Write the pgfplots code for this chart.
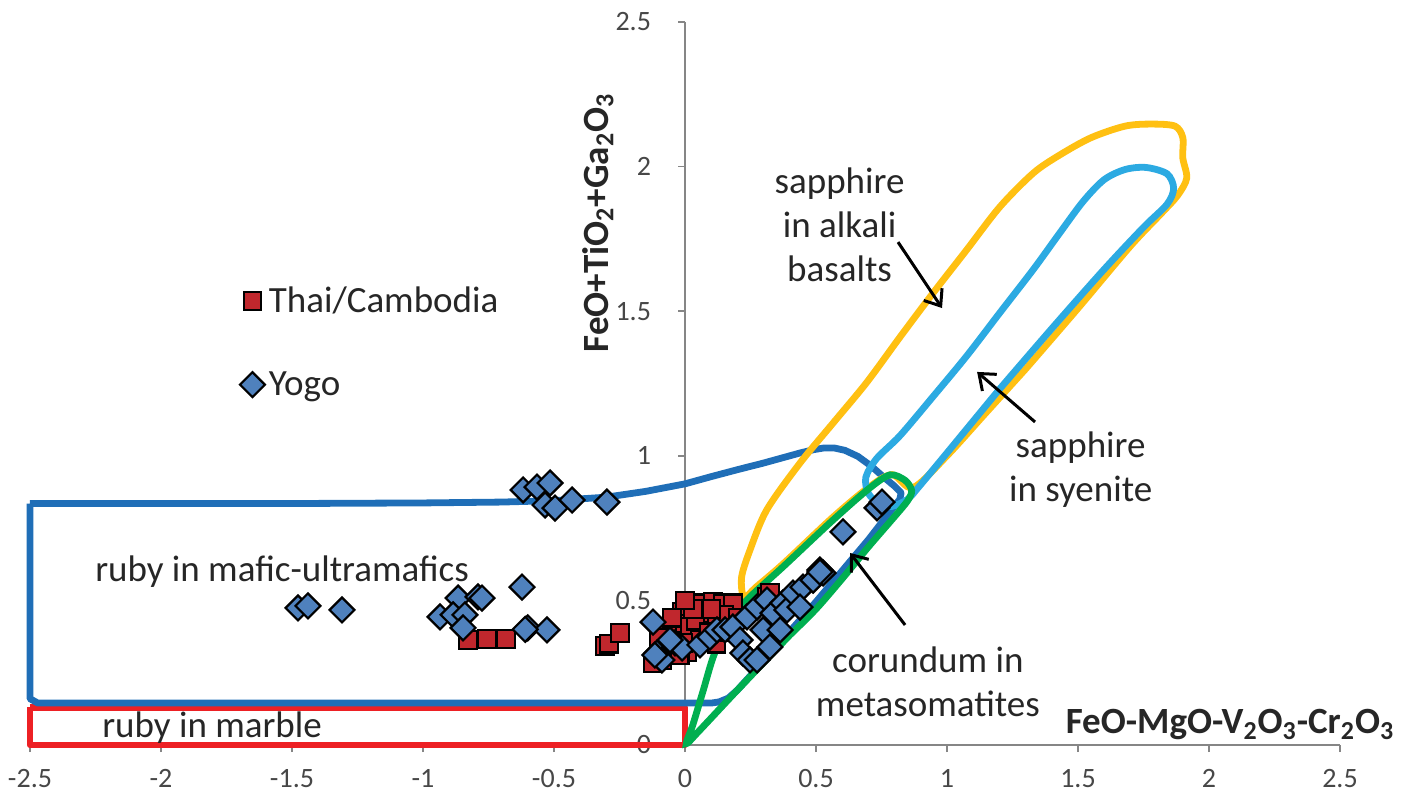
\documentclass[border=0pt]{standalone}
\usepackage{pgfplots}
\pgfplotsset{compat=1.18}
\usepackage{fontspec}
\setmainfont{Carlito}
\usetikzlibrary{arrows.meta}
\definecolor{txt}{HTML}{262626}
\definecolor{axgray}{HTML}{868686}
\definecolor{dblue}{HTML}{1F6EB7}
\definecolor{lblue}{HTML}{2CAAE2}
\definecolor{orng}{HTML}{FFC012}
\definecolor{grn}{HTML}{00AF50}
\definecolor{rred}{HTML}{ED2024}
\definecolor{sqred}{HTML}{C0272D}
\definecolor{dmblue}{HTML}{4F81BD}
\newcommand{\annfont}{\fontsize{18.5bp}{22bp}\selectfont}
\pgfplotsset{onemark/.style={legend image code/.code={\draw[##1] plot coordinates {(6bp,0bp)};}}}
\begin{document}
\begin{tikzpicture}
\begin{axis}[
  scale only axis, width=655bp, height=361.5bp,
  xmin=-2.5, xmax=2.5, ymin=0, ymax=2.5,
  axis x line=bottom, axis y line=middle,
  axis line style={-, draw=axgray, line width=0.8bp},
  every outer x axis line/.append style={-},
  every inner y axis line/.append style={-},
  hide obscured x ticks=false, hide obscured y ticks=false,
  xtick={-2.5,-2,-1.5,-1,-0.5,0,0.5,1,1.5,2,2.5},
  ytick={0,0.5,1,1.5,2,2.5},
  tick align=outside, major tick length=3.5bp,
  tick style={draw=axgray, line width=0.8bp},
  /pgf/number format/assume math mode=true,
  ticklabel style={font=\fontsize{14bp}{16bp}\selectfont, text=txt!85},
  xticklabel style={yshift=-5bp},
  yticklabel style={xshift=-10bp},
  clip=false,
  every axis x label/.style={at={(0.916,0.0277)}, anchor=center},
  every axis y label/.style={at={(0.4335,0.722)}, anchor=center, rotate=90},
  label style={font=\fontsize{18.5bp}{21bp}\selectfont\bfseries, text=txt},
  xlabel={FeO-MgO-V\textsubscript{2}O\textsubscript{3}-Cr\textsubscript{2}O\textsubscript{3}},
  ylabel={FeO+TiO\textsubscript{2}+Ga\textsubscript{2}O\textsubscript{3}},
  legend style={at={(0.16,0.64)}, anchor=north west, draw=none, fill=none,
    font=\annfont, text=txt, row sep=24bp, inner sep=0pt},
  legend cell align=left,
]
\coordinate (bl) at (axis cs:-2.6145,-0.1798);
\coordinate (tr) at (axis cs:2.7786,2.5761);

\addplot[only marks, mark=square*, mark size=4.4bp,
  mark options={fill=sqred, draw=black, line width=1.1bp}, onemark]
coordinates {
(-0.828,0.363)(-0.756,0.367)(-0.683,0.367)(-0.305,0.342)(-0.29,0.35)(-0.248,0.387)
(-0.011,0.46)(0.084,0.456)(0.057,0.49)(0.107,0.495)(0.145,0.49)(0.183,0.49)
(-0.031,0.42)(-0.069,0.40)(0.019,0.41)(0.057,0.363)(0.008,0.32)(-0.088,0.294)
(-0.05,0.44)(-0.008,0.353)(0.122,0.432)(0.313,0.512)(0.324,0.525)(0.04,0.43)
(0.09,0.39)(0.15,0.45)(0.03,0.47)(-0.07,0.34)(0.12,0.35)(0.2,0.44)(0.0,0.5)
(0.17,0.39)(0.1,0.47)(-0.1,0.37)(-0.122,0.283)(-0.02,0.31)
};
\addlegendentry{Thai/Cambodia}

\addplot[only marks, mark=square*, mark size=4.4bp,
  mark options={fill=dmblue, draw=black, line width=1.1bp, rotate=45}, onemark]
coordinates {
(-1.477,0.474)(-1.439,0.481)(-1.309,0.467)
(-0.618,0.882)(-0.565,0.892)(-0.515,0.906)(-0.534,0.830)(-0.496,0.819)(-0.431,0.847)(-0.298,0.840)
(-0.622,0.546)(-0.935,0.443)(-0.866,0.508)(-0.79,0.512)(-0.775,0.508)(-0.885,0.45)(-0.84,0.45)
(-0.847,0.405)(-0.60,0.405)(-0.527,0.398)(-0.61,0.40)
(-0.122,0.425)(-0.107,0.318)(-0.088,0.294)(-0.038,0.353)(-0.011,0.335)(-0.057,0.363)
(0.057,0.346)(0.095,0.373)(0.122,0.398)(0.153,0.398)(0.183,0.408)(0.21,0.363)
(0.237,0.443)(0.275,0.477)(0.313,0.501)(0.336,0.456)(0.298,0.398)(0.221,0.318)
(0.248,0.294)(0.374,0.491)(0.389,0.467)(0.412,0.525)(0.45,0.546)(0.489,0.57)
(0.515,0.605)(0.527,0.595)(0.363,0.398)(0.439,0.477)(0.324,0.339)(0.275,0.294)
(0.603,0.737)(0.733,0.82)(0.752,0.84)(0.515,0.598)(-0.115,0.311)
};
\addlegendentry{Yogo}

% ruby in marble
\addplot[forget plot, sharp plot, rred, line width=3.2bp, line join=round] coordinates {
(-2.5,0.13)(0,0.13)(0,0)(-2.5,0)(-2.5,0.13)};
% ruby in mafic-ultramafics
\addplot[forget plot, sharp plot, dblue, line width=3.4bp, line join=round] coordinates {
(-2.5,0.835)(-2.0,0.835)(-1.5,0.835)(-1.0,0.837)(-0.7,0.84)(-0.5,0.845)(-0.3,0.857)
(-0.15,0.877)(0,0.903)(0.1,0.928)(0.2,0.952)(0.3,0.975)(0.38,0.995)(0.44,1.01)(0.49,1.021)
(0.53,1.027)(0.57,1.027)(0.61,1.019)(0.66,0.998)(0.71,0.965)(0.76,0.925)(0.8,0.895)(0.825,0.872)
(0.82,0.85)(0.7,0.71)(0.5,0.495)(0.3,0.29)(0.2,0.19)(0.165,0.162)(0.13,0.149)(0.1,0.145)
(0.0,0.145)(-2.47,0.145)(-2.5,0.16)(-2.5,0.835)};
% sapphire in alkali basalts
\addplot[forget plot, smooth, orng, line width=3.4bp] coordinates {
(1.3,1.3)(1.5,1.51)(1.7,1.725)(1.82,1.84)(1.88,1.9)(1.915,1.96)(1.9,2.03)(1.9,2.1)
(1.87,2.14)(1.78,2.147)(1.68,2.14)(1.55,2.1)(1.43,2.04)(1.33,1.978)(1.202,1.861)
(1.075,1.712)(0.947,1.563)(0.821,1.411)(0.693,1.253)(0.565,1.113)(0.439,0.975)
(0.312,0.813)(0.248,0.674)(0.216,0.58)(0.225,0.51)(0.27,0.545)(0.374,0.626)
(0.565,0.788)(0.7,0.89)(0.79,0.935)(0.87,0.89)(1.0,1.0)(1.15,1.15)(1.3,1.3)};
% sapphire in syenite
\addplot[forget plot, smooth, lblue, line width=3.4bp] coordinates {
(1.2,1.23)(1.4,1.44)(1.6,1.645)(1.75,1.79)(1.84,1.87)(1.865,1.925)(1.84,1.975)
(1.76,1.997)(1.68,1.99)(1.6,1.955)(1.52,1.88)(1.43,1.77)(1.33,1.645)(1.202,1.495)
(1.075,1.345)(0.947,1.205)(0.821,1.07)(0.731,0.99)(0.69,0.925)(0.70,0.87)
(0.74,0.835)(0.79,0.825)(0.85,0.85)(0.89,0.89)(1.0,1.01)(1.2,1.23)};
% corundum in metasomatites
\addplot[forget plot, smooth, grn, line width=3.4bp] coordinates {
(0.4,0.38)(0.5,0.47)(0.6,0.575)(0.7,0.685)(0.8,0.79)(0.85,0.845)(0.865,0.88)
(0.84,0.915)(0.782,0.934)(0.7,0.885)(0.565,0.778)(0.374,0.616)(0.248,0.512)
(0.17,0.43)(0.11,0.31)(0.07,0.19)(0.03,0.07)(0.005,0.005)(0.05,0.045)(0.2,0.19)(0.4,0.38)};

\draw[-{Straight Barb[length=7bp,width=11bp]}, line width=1.5bp, black]
  (axis cs:0.813,1.739) -- (axis cs:0.981,1.511);
\draw[-{Straight Barb[length=7bp,width=11bp]}, line width=1.5bp, black]
  (axis cs:1.336,1.117) -- (axis cs:1.115,1.29);
\draw[-{Straight Barb[length=7bp,width=11bp]}, line width=1.5bp, black]
  (axis cs:0.84,0.415) -- (axis cs:0.63,0.664);

\node[align=center, font=\annfont, text=txt] at (axis cs:0.59,1.80) {sapphire\\in alkali\\basalts};
\node[align=center, font=\annfont, text=txt] at (axis cs:1.51,0.952) {sapphire\\in syenite};
\node[align=center, font=\annfont, text=txt] at (axis cs:0.927,0.22) {corundum in\\metasomatites};
\node[font=\annfont, text=txt] at (axis cs:-1.538,0.6) {ruby in mafic-ultramafics};
\node[font=\annfont, text=txt] at (axis cs:-1.805,0.06) {ruby in marble};
\end{axis}
\pgfresetboundingbox
\path[use as bounding box] (bl) rectangle (tr);
\end{tikzpicture}
\end{document}
